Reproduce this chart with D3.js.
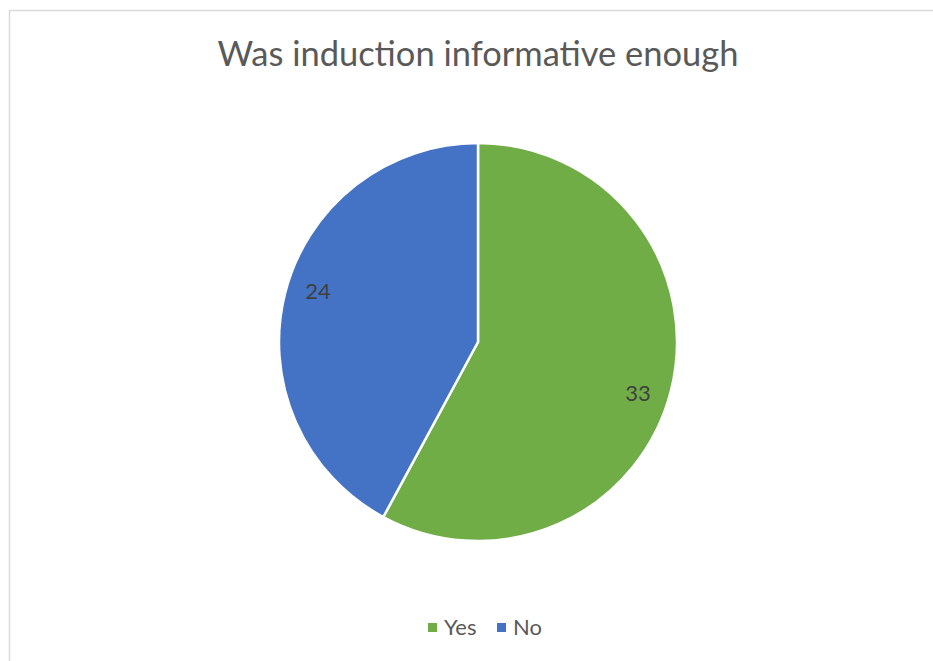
<!DOCTYPE html>
<html><head><meta charset="utf-8">
<script src="https://cdn.jsdelivr.net/npm/d3@7"></script>
<style>body{margin:0;background:#fff}svg{display:block}</style>
</head><body>
<svg id="chart" width="933" height="661"></svg>
<script>
const title = "Was induction informative enough";
const categories = ["Yes", "No"];
const values = [33, 24];
const colors = ["#70AD47", "#4472C4"];

const svg = d3.select("#chart");
const font = "Lato, 'Open Sans', sans-serif";

// chart border
svg.append("rect").attr("x", 9.5).attr("y", 10.5).attr("width", 940).attr("height", 700)
  .attr("fill", "#fff").attr("stroke", "#d9d9d9").attr("stroke-width", 1.5);

// title
const t = svg.append("text").attr("x", 478).attr("y", 66).attr("text-anchor", "middle")
  .attr("font-family", font).attr("font-size", 36).attr("fill", "#595959").text(title);
const w = t.node().getComputedTextLength();
if (w > 0) t.attr("font-size", 36 * 521 / w);

const cx = 478, cy = 342, r = 199;
const data = categories.map((c, i) => ({cat: c, value: values[i], color: colors[i]}));
const pie = d3.pie().value(d => d.value).sort(null);
const arcs = pie(data);
const arc = d3.arc().innerRadius(0).outerRadius(r);
const labelArc = d3.arc().innerRadius(168).outerRadius(168);

const g = svg.append("g").attr("transform", `translate(${cx},${cy})`);
g.selectAll("path").data(arcs).join("path")
  .attr("d", arc).attr("fill", d => d.data.color)
  .attr("stroke", "#fff").attr("stroke-width", 2.5).attr("stroke-linejoin", "round");

g.selectAll("text.lbl").data(arcs).join("text").attr("class", "lbl")
  .attr("transform", d => { const [x, y] = labelArc.centroid({startAngle: d.startAngle + 0.06, endAngle: d.endAngle + 0.06}); return `translate(${x},${y})`; })
  .attr("text-anchor", "middle").attr("dy", "0.35em")
  .attr("font-family", font).attr("font-size", 22).attr("fill", "#404040")
  .text(d => d.data.value);

// legend
const legX = [428, 497];
const lg = svg.append("g");
data.forEach((d, i) => {
  lg.append("rect").attr("x", legX[i]).attr("y", 623).attr("width", 9).attr("height", 9).attr("fill", d.color);
  lg.append("text").attr("x", legX[i] + 16).attr("y", 635).attr("font-family", font)
    .attr("font-size", 22).attr("fill", "#595959").text(d.cat);
});
</script>
</body></html>
